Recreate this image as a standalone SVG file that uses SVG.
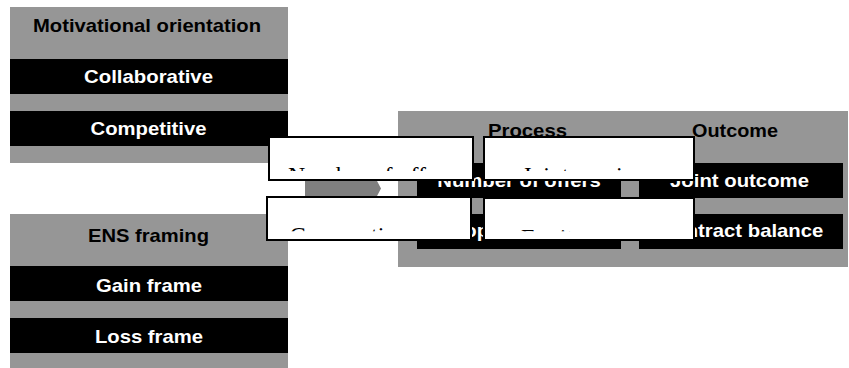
<svg xmlns="http://www.w3.org/2000/svg" width="849" height="368" viewBox="0 0 849 368">
  <style>
    .panel { fill: #969696; }
    .band { fill: #000000; }
    .hdr { font-family: "Liberation Sans", Arial, sans-serif; font-weight: bold; font-size: 18.6px; fill: #000000; text-anchor: middle; }
    .lbl { font-family: "Liberation Sans", Arial, sans-serif; font-weight: bold; font-size: 18.6px; fill: #ffffff; text-anchor: middle; }
    .box { fill: #ffffff; stroke: #000000; stroke-width: 2; }
    .hid { font-family: "Liberation Serif", "Times New Roman", serif; font-size: 24px; fill: #000000; }
    .arrow { fill: #7f7f7f; }
  </style>
  <defs>
    <clipPath id="clipRow1"><rect x="260" y="100" width="450" height="71"/></clipPath>
    <clipPath id="clipRow2"><rect x="260" y="190" width="450" height="41.3"/></clipPath>
  </defs>
  <rect width="849" height="368" fill="#ffffff"/>

  <g id="motivational-orientation">
    <rect class="panel" x="10" y="7" width="278" height="156"/>
    <text class="hdr" x="147" y="32" textLength="228" lengthAdjust="spacingAndGlyphs">Motivational orientation</text>
    <rect class="band" x="10" y="59" width="278" height="35"/>
    <text class="lbl" x="148.5" y="83" textLength="129" lengthAdjust="spacingAndGlyphs">Collaborative</text>
    <rect class="band" x="10" y="111" width="278" height="35"/>
    <text class="lbl" x="148.5" y="135" textLength="116" lengthAdjust="spacingAndGlyphs">Competitive</text>
  </g>

  <g id="ens-framing">
    <rect class="panel" x="10" y="214" width="278" height="154"/>
    <text class="hdr" x="148.5" y="241.7" textLength="121" lengthAdjust="spacingAndGlyphs">ENS framing</text>
    <rect class="band" x="10" y="266" width="278" height="35"/>
    <text class="lbl" x="149" y="291.7" textLength="106" lengthAdjust="spacingAndGlyphs">Gain frame</text>
    <rect class="band" x="10" y="318" width="278" height="35"/>
    <text class="lbl" x="149" y="343.3" textLength="108" lengthAdjust="spacingAndGlyphs">Loss frame</text>
  </g>

  <g id="process-outcome">
    <rect class="panel" x="398" y="111" width="450" height="156"/>
    <text class="hdr" x="527.5" y="136.5" textLength="79" lengthAdjust="spacingAndGlyphs">Process</text>
    <text class="hdr" x="735" y="136.5" textLength="86" lengthAdjust="spacingAndGlyphs">Outcome</text>
    <rect class="band" x="417" y="163" width="204" height="35"/>
    <text class="lbl" x="519" y="187" textLength="163.5" lengthAdjust="spacingAndGlyphs">Number of offers</text>
    <rect class="band" x="639" y="163" width="204" height="35"/>
    <text class="lbl" x="739.5" y="187" textLength="139" lengthAdjust="spacingAndGlyphs">Joint outcome</text>
    <rect class="band" x="417" y="214" width="204" height="35"/>
    <text class="lbl" x="519" y="236.8" textLength="163.6" lengthAdjust="spacingAndGlyphs">Cooperativeness</text>
    <rect class="band" x="639" y="214" width="204" height="35"/>
    <text class="lbl" x="741" y="236.8" textLength="164.7" lengthAdjust="spacingAndGlyphs">Contract balance</text>
  </g>

  <g id="connectors">
    <polygon class="arrow" points="305,181 377,181 381,188.5 377,196 305,196"/>
  </g>

  <g id="box-number-of-offers">
    <rect class="box" x="269" y="137" width="204" height="43"/>
    <text class="hid" x="371" y="183" text-anchor="middle" clip-path="url(#clipRow1)">Number of offers</text>
  </g>
  <g id="box-joint">
    <rect class="box" x="484" y="137" width="210" height="43"/>
    <text class="hid" x="589" y="183" text-anchor="middle" clip-path="url(#clipRow1)">Joint earnings</text>
  </g>
  <g id="box-cooperativeness">
    <rect class="box" x="267" y="197" width="204" height="43"/>
    <text class="hid" x="369" y="243" text-anchor="middle" clip-path="url(#clipRow2)">Cooperativeness</text>
  </g>
  <g id="box-equity">
    <rect class="box" x="484" y="198" width="210" height="42"/>
    <text class="hid" x="521" y="245" clip-path="url(#clipRow2)">Equity</text>
  </g>
</svg>
